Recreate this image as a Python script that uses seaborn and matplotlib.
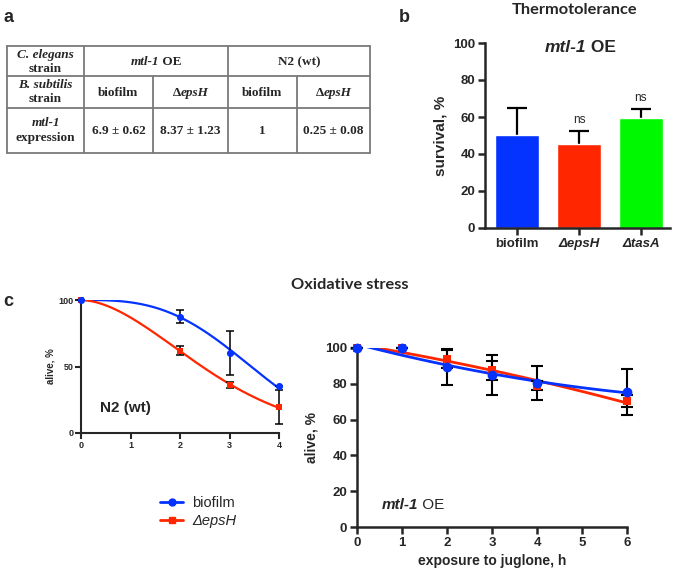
import numpy as np
import matplotlib
matplotlib.use("Agg")
import matplotlib.pyplot as plt
from matplotlib.lines import Line2D
import seaborn as sns

# panel a - table values
host_strains = ["mtl-1 OE", "N2 (wt)"]
bacteria = ["biofilm", "ΔepsH", "biofilm", "ΔepsH"]
mtl1_expression = ["6.9 ± 0.62", "8.37 ± 1.23", "1", "0.25 ± 0.08"]

# panel b - thermotolerance
bar_labels = ["biofilm", "ΔepsH", "ΔtasA"]
bar_survival = [50.5, 45.2, 59.3]
bar_err = [14.5, 7.0, 5.0]
bar_colors = ["#0433FF", "#FF2600", "#00F900"]
bar_ns = ["", "ns", "ns"]

# panel c - oxidative stress, N2 (wt)
n2_hours = [0, 2, 3, 4]
n2_biofilm = [100, 87.5, 60.3, 35.5]
n2_biofilm_err = [0, 4.8, 16.5, 0]
n2_epsh = [100, 61.8, 36.2, 19.2]
n2_epsh_err = [0, 3.4, 2.4, 12.8]

# panel c - oxidative stress, mtl-1 OE
oe_hours = [0, 1, 2, 3, 4, 6]
oe_biofilm = [100, 100, 89.5, 85.0, 80.5, 75.5]
oe_biofilm_err = [0, 0, 10.0, 11.0, 9.3, 13.0]
oe_epsh = [100, 100, 94.0, 87.5, 79.0, 70.3]
oe_epsh_err = [0, 0, 5.0, 5.3, 2.5, 3.5]

BLUE, RED = "#0433FF", "#FF2600"
SANS = "Liberation Sans"
SERIF = "Liberation Serif"

sns.set_style("ticks")
plt.rcParams["font.family"] = [SANS, "DejaVu Sans"]

fig = plt.figure(figsize=(6.75, 5.76), dpi=100)
W, H = 675, 576

# overlay in pixel coordinates for table, titles, labels
ov = fig.add_axes([0, 0, 1, 1], zorder=10)
ov.set_xlim(0, W)
ov.set_ylim(H, 0)
ov.axis("off")

rich_groups = []


def rich(x, y, parts, size, family=SANS, ha="center"):
    arts = []
    for s, style, weight in parts:
        kw = dict(ha="left", va="center", fontsize=size, family=family,
                  style=style, weight=weight)
        if not arts:
            t = ov.text(x, y, s, **kw)
        else:
            t = ov.annotate(s, xy=(1, 0.5), xycoords=arts[-1], **kw)
        arts.append(t)
    rich_groups.append((arts, x, ha))


def survival_fit(hours, alive, grid):
    # weibull survival fitted on the linearised points
    h = np.asarray(hours, float)
    a = np.asarray(alive, float)
    m = (h > 0) & (a < 100)
    slope, icpt = np.polyfit(np.log(h[m]), np.log(-np.log(a[m] / 100)), 1)
    return 100 * np.exp(-np.exp(icpt) * grid ** slope)


# ---------------- panel a: table ----------------
col_x = [7, 84, 153, 228, 297, 370]
row_y = [46, 76, 108, 153]
lc, lw_t = "#7a7a7a", 1.3
for y in row_y:
    ov.plot([col_x[0], col_x[-1]], [y, y], color=lc, lw=lw_t)
for x in [col_x[0], col_x[1], col_x[3], col_x[-1]]:
    ov.plot([x, x], [row_y[0], row_y[-1]], color=lc, lw=lw_t)
for x in [col_x[2], col_x[4]]:
    ov.plot([x, x], [row_y[1], row_y[-1]], color=lc, lw=lw_t)

tfs = 9.5
cx = [(col_x[i] + col_x[i + 1]) / 2 for i in range(5)]
ov.text(cx[0], 55, "C. elegans", ha="center", va="center", family=SERIF,
        fontsize=tfs, weight="bold", style="italic")
ov.text(cx[0], 69, "strain", ha="center", va="center", family=SERIF,
        fontsize=tfs, weight="bold")
ov.text(cx[0], 85, "B. subtilis", ha="center", va="center", family=SERIF,
        fontsize=tfs, weight="bold", style="italic")
ov.text(cx[0], 99, "strain", ha="center", va="center", family=SERIF,
        fontsize=tfs, weight="bold")
ov.text(cx[0], 123, "mtl-1", ha="center", va="center", family=SERIF,
        fontsize=tfs, weight="bold", style="italic")
ov.text(cx[0], 138, "expression", ha="center", va="center", family=SERIF,
        fontsize=tfs, weight="bold")

rich((col_x[1] + col_x[3]) / 2, 62,
     [(host_strains[0].split(" ")[0], "italic", "bold"),
      (" " + host_strains[0].split(" ")[1], "normal", "bold")], tfs, SERIF)
ov.text((col_x[3] + col_x[5]) / 2, 62, host_strains[1], ha="center",
        va="center", family=SERIF, fontsize=tfs, weight="bold")
for i, b in enumerate(bacteria):
    if b.startswith("Δ"):
        rich(cx[i + 1], 93, [("Δ", "normal", "bold"), (b[1:], "italic", "bold")],
             tfs, SERIF)
    else:
        ov.text(cx[i + 1], 93, b, ha="center", va="center", family=SERIF,
                fontsize=tfs, weight="bold")
for i, v in enumerate(mtl1_expression):
    ov.text(cx[i + 1], 131, v, ha="center", va="center", family=SERIF,
            fontsize=tfs, weight="bold")

ov.text(9, 18, "a", ha="center", va="center", fontsize=13, weight="bold")
ov.text(404, 17, "b", ha="center", va="center", fontsize=13, weight="bold")
ov.text(8, 302, "c", ha="center", va="center", fontsize=13, weight="bold")

ov.text(575, 10, "Thermotolerance", ha="center", va="center",
        family=["Lato", SANS], fontsize=11.8, weight="bold")
ov.text(350, 285, "Oxidative stress", ha="center", va="center",
        family=["Lato", SANS], fontsize=11.8, weight="bold")

# ---------------- panel b: bars ----------------
axb = fig.add_axes([485 / W, 1 - 228 / H, 185 / W, 185 / H])
sns.barplot(x=bar_labels, y=bar_survival, hue=bar_labels, palette=bar_colors,
            saturation=1, width=0.7, legend=False, errorbar=None, ax=axb,
            zorder=2)
axb.errorbar(np.arange(len(bar_labels)), bar_survival, yerr=bar_err,
             fmt="none", ecolor="black", elinewidth=1.6, capsize=7,
             capthick=1.6, zorder=1.5)
for i, s in enumerate(bar_ns):
    if s:
        axb.text(i, bar_survival[i] + bar_err[i] + 6, s, ha="center",
                 va="center", fontsize=8.5)
axb.set_xlim(-0.516, 2.47)
axb.set_ylim(0, 100)
axb.set_yticks(range(0, 101, 20))
axb.set_ylabel("survival, %", fontsize=11, weight="bold", labelpad=4)
sns.despine(ax=axb)
for sp in ["left", "bottom"]:
    axb.spines[sp].set_linewidth(1.8)
axb.tick_params(width=1.8, length=5, labelsize=9.5, pad=2)
for lbl in axb.get_yticklabels():
    lbl.set_fontweight("bold")
for i, lbl in enumerate(axb.get_xticklabels()):
    lbl.set_fontweight("bold")
    if i > 0:
        lbl.set_fontstyle("italic")
rich(580, 47, [("mtl-1", "italic", "bold"), (" OE", "normal", "bold")], 12.5)

# ---------------- panel c left: N2 ----------------
axl = fig.add_axes([81 / W, 1 - 433 / H, 198 / W, 133 / H])
grid4 = np.linspace(0, 4, 200)
sns.lineplot(x=grid4, y=survival_fit(n2_hours, n2_biofilm, grid4),
             color=BLUE, lw=1.6, ax=axl)
sns.lineplot(x=grid4, y=survival_fit(n2_hours, n2_epsh, grid4), color=RED,
             lw=1.6, ax=axl)
axl.errorbar(n2_hours, n2_biofilm, yerr=n2_biofilm_err, fmt="none",
             ecolor="black", elinewidth=1.1, capsize=3, capthick=1.1,
             zorder=2.5, clip_on=False)
axl.errorbar(n2_hours, n2_epsh, yerr=n2_epsh_err, fmt="none",
             ecolor="black", elinewidth=1.1, capsize=3, capthick=1.1,
             zorder=2.5, clip_on=False)
sns.scatterplot(x=n2_hours, y=n2_epsh, color=RED, marker="s", s=22,
                linewidth=0, ax=axl, zorder=3, clip_on=False)
sns.scatterplot(x=n2_hours, y=n2_biofilm, color=BLUE, marker="o", s=26,
                linewidth=0, ax=axl, zorder=3, clip_on=False)
axl.set_xlim(0, 4)
axl.set_ylim(0, 100)
axl.set_xticks(range(0, 5))
axl.set_yticks([0, 50, 100])
axl.set_ylabel("alive, %", fontsize=7, weight="bold", labelpad=2)
sns.despine(ax=axl)
for sp in ["left", "bottom"]:
    axl.spines[sp].set_linewidth(1.5)
axl.tick_params(width=1.5, length=4, labelsize=6.5, pad=1.5)
for lbl in axl.get_xticklabels() + axl.get_yticklabels():
    lbl.set_fontweight("bold")
ov.text(100, 408, "N2 (wt)", ha="left", va="center", fontsize=11,
        weight="bold")

# ---------------- panel c right: mtl-1 OE ----------------
axr = fig.add_axes([357 / W, 1 - 527 / H, 270 / W, 179 / H])
sns.regplot(x=np.array(oe_hours, float), y=np.array(oe_epsh, float), order=2,
            ci=None, scatter=False, color=RED, line_kws={"lw": 2}, ax=axr)
sns.regplot(x=np.array(oe_hours, float), y=np.array(oe_biofilm, float),
            order=2, ci=None, scatter=False, color=BLUE, line_kws={"lw": 2},
            ax=axr)
axr.errorbar(oe_hours, oe_epsh, yerr=oe_epsh_err, fmt="none", ecolor="black",
             elinewidth=1.5, capsize=4.5, capthick=1.5, zorder=2.5,
             clip_on=False)
axr.errorbar(oe_hours, oe_biofilm, yerr=oe_biofilm_err, fmt="none",
             ecolor="black", elinewidth=1.5, capsize=4.5, capthick=1.5,
             zorder=2.5, clip_on=False)
sns.scatterplot(x=oe_hours, y=oe_epsh, color=RED, marker="s", s=40,
                linewidth=0, ax=axr, zorder=3, clip_on=False)
sns.scatterplot(x=oe_hours, y=oe_biofilm, color=BLUE, marker="o", s=50,
                linewidth=0, ax=axr, zorder=3, clip_on=False)
axr.set_xlim(0, 6)
axr.set_ylim(0, 100)
axr.set_xticks(range(0, 7))
axr.set_yticks(range(0, 101, 20))
axr.set_xlabel("exposure to juglone, h", fontsize=10, weight="bold",
               labelpad=4)
axr.set_ylabel("alive, %", fontsize=10, weight="bold", labelpad=5)
sns.despine(ax=axr)
for sp in ["left", "bottom"]:
    axr.spines[sp].set_linewidth(1.8)
axr.tick_params(width=1.8, length=5, labelsize=9.5, pad=2)
for lbl in axr.get_xticklabels() + axr.get_yticklabels():
    lbl.set_fontweight("bold")
rich(382, 505, [("mtl-1", "italic", "bold"), (" OE", "normal", "normal")],
     11, ha="left")

# legend
handles = [Line2D([], [], color=BLUE, marker="o", ms=5, lw=2),
           Line2D([], [], color=RED, marker="s", ms=4.5, lw=2)]
leg = ov.legend(handles, ["biofilm", "ΔepsH"], loc="upper left",
                bbox_to_anchor=(160 / W, 1 - 496 / H),
                bbox_transform=fig.transFigure, frameon=False, fontsize=10.5,
                handlelength=1.6, handletextpad=0.6, labelspacing=0.3,
                borderpad=0, borderaxespad=0)
leg.get_texts()[1].set_fontstyle("italic")

# center the mixed-style labels
fig.canvas.draw()
r = fig.canvas.get_renderer()
for arts, x, ha in rich_groups:
    if ha == "center":
        w = sum(a.get_window_extent(r).width for a in arts)
        arts[0].set_x(x - w / 2)

fig.savefig("out.png", dpi=100)
